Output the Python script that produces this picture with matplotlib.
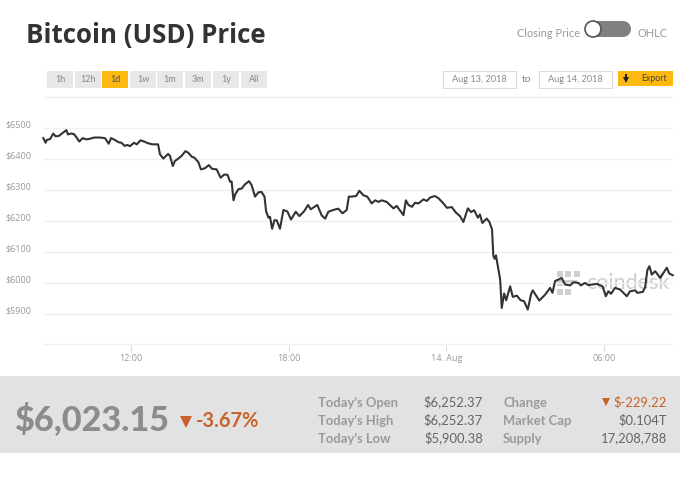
import matplotlib
matplotlib.use("Agg")
from matplotlib import pyplot as plt
from matplotlib.patches import Rectangle, FancyBboxPatch, Circle
from matplotlib.transforms import ScaledTranslation

# hours counted from 13 Aug 00:00
hours = [8.66, 8.75, 8.79, 8.92, 9.04, 9.13, 9.25, 9.40, 9.54, 9.60, 9.72, 9.83, 9.93, 10.03, 10.16,
         10.29, 10.44, 10.59, 10.82, 11.01, 11.15, 11.24, 11.39, 11.52, 11.64, 11.75, 11.86, 11.96,
         12.11, 12.22, 12.36, 12.50, 12.66, 12.82, 13.03, 13.10, 13.23, 13.41, 13.48, 13.59, 13.67,
         13.80, 13.93, 14.07, 14.18, 14.31, 14.41, 14.56, 14.66, 14.82, 14.96, 15.08, 15.26, 15.41,
         15.54, 15.67, 15.77, 15.83, 15.90, 15.97, 16.09, 16.21, 16.34, 16.49, 16.59, 16.72, 16.85,
         16.97, 17.08, 17.14, 17.23, 17.29, 17.37, 17.46, 17.55, 17.67, 17.80, 17.95, 18.09, 18.27,
         18.41, 18.59, 18.74, 18.84, 19.09, 19.26, 19.39, 19.51, 19.70, 19.89, 20.05, 20.21, 20.29,
         20.40, 20.57, 20.69, 20.85, 20.99, 21.16, 21.29, 21.42, 21.54, 21.73, 21.99, 22.11, 22.37,
         22.46, 22.56, 22.69, 22.81, 22.94, 23.13, 23.26, 23.38, 23.56, 23.70, 23.89, 24.02, 24.21,
         24.37, 24.52, 24.65, 24.82, 24.94, 25.06, 25.20, 25.28, 25.37, 25.54, 25.64, 25.74, 25.79,
         25.84, 25.89, 26.05, 26.11, 26.20, 26.28, 26.43, 26.53, 26.68, 26.83, 26.96, 27.10, 27.23,
         27.29, 27.54, 27.76, 27.95, 28.04, 28.14, 28.39, 28.52, 28.71, 28.84, 29.03, 29.12, 29.28,
         29.41, 29.73, 29.95, 30.07, 30.17, 30.27, 30.42, 30.61, 30.87, 30.99, 31.19, 31.27, 31.48,
         31.57, 31.65, 31.73, 31.82, 31.95, 32.14, 32.39, 32.49, 32.62]
price = [6467, 6452, 6461, 6464, 6482, 6473, 6474, 6484, 6493, 6479, 6482, 6480, 6469, 6456, 6467,
         6463, 6465, 6469, 6469, 6467, 6449, 6467, 6461, 6454, 6452, 6442, 6445, 6441,
         6452, 6447, 6460, 6456, 6450, 6447, 6447, 6415, 6401, 6416, 6410, 6377, 6393,
         6401, 6410, 6425, 6420, 6407, 6404, 6390, 6366, 6370, 6380, 6368, 6366, 6339,
         6349, 6349, 6326, 6327, 6266, 6286, 6302, 6304, 6318, 6328, 6315, 6278, 6292,
         6293, 6278, 6231, 6210, 6213, 6174, 6202, 6201, 6174, 6235, 6230, 6204, 6229,
         6215, 6231, 6251, 6237, 6251, 6217, 6207, 6229, 6235, 6239, 6224, 6235, 6278,
         6278, 6280, 6297, 6282, 6278, 6256, 6266, 6261, 6266, 6261, 6240, 6248, 6218,
         6266, 6251, 6245, 6258, 6256, 6269, 6264, 6275, 6280, 6273, 6256, 6242, 6244,
         6226, 6215, 6196, 6240, 6228, 6234, 6210, 6220, 6193, 6207, 6196, 6172, 6086,
         6077, 6088, 6010, 5918, 5965, 5943, 5988, 5954, 5958, 5943, 5940, 5913, 5964,
         5975, 5942, 5961, 5983, 5967, 6005, 6015, 5994, 5991, 6001, 5999, 5991, 5999,
         5992, 5996, 5988, 5956, 5972, 5964, 5983, 5978, 5956, 5972, 5975, 5967, 5970,
         5986, 6040, 6053, 6026, 6037, 6015, 6048, 6029, 6024]

ytick_vals = [5800, 5900, 6000, 6100, 6200, 6300, 6400, 6500, 6600]
ytick_labels = ["", "$5900", "$6000", "$6100", "$6200", "$6300", "$6400", "$6500", ""]
xtick_vals = [12, 18, 24, 30]
xtick_labels = ["12:00", "18:00", "14. Aug", "06:00"]
ranges = ["1h", "12h", "1d", "1w", "1m", "3m", "1y", "All"]
range_left = [47, 75, 102, 130, 157, 185, 213, 241]
stat_names = ["Today's Open", "Today's High", "Today's Low"]
stat_values = ["$6,252.37", "$6,252.37", "$5,900.38"]
other_names = ["Change", "Market Cap", "Supply"]
other_values = ["$-229.22", "$0.104T", "17,208,788"]

GREY = "#9a9a9a"
ORANGE = "#c8622a"
YELLOW = "#fdb90f"
plt.rcParams["font.family"] = ["Lato", "DejaVu Sans"]

fig = plt.figure(figsize=(6.8, 4.82), dpi=100)

# page furniture, in pixels
bg = fig.add_axes([0, 0, 1, 1], zorder=0)
bg.set_xlim(0, 680)
bg.set_ylim(482, 0)
bg.axis("off")

bg.text(26, 36, "Bitcoin (USD) Price", fontsize=18.6, fontweight="bold", color="#333333", va="center",
        family="Open Sans")

bg.text(580, 33.5, "Closing Price", fontsize=7.9, color="#999999", ha="right", va="center")
bg.text(638, 33.5, "OHLC", fontsize=7.9, color="#999999", va="center")
bg.add_patch(FancyBboxPatch((593, 21), 30, 16, boxstyle="round,pad=0,rounding_size=8", mutation_aspect=1,
                            fc="#808080", ec="#808080", lw=0))
bg.add_patch(Rectangle((593, 21), 30, 16, fc="#808080", lw=0))
bg.add_patch(Circle((631 - 8, 29), 8, fc="#808080", lw=0))
bg.add_patch(Circle((593, 29), 8, fc="white", ec="#555555", lw=1.2, zorder=3))

for left, label in zip(range_left, ranges):
    active = label == "1d"
    bg.add_patch(Rectangle((left, 71), 26, 17, fc=YELLOW if active else "#e8e8e8", lw=0))
    bg.text(left + 13, 79.5, label, fontsize=6.5, color="#555555" if active else "#888888",
            ha="center", va="center")

bg.add_patch(Rectangle((443, 71), 73, 17, fc="white", ec="#dddddd", lw=0.8))
bg.add_patch(Rectangle((539, 71), 73, 17, fc="white", ec="#dddddd", lw=0.8))
bg.text(479.5, 79.5, "Aug 13, 2018", fontsize=6.6, color="#888888", ha="center", va="center")
bg.text(575.5, 79.5, "Aug 14, 2018", fontsize=6.6, color="#888888", ha="center", va="center")
bg.text(527, 79, "to", fontsize=7.5, color="#888888", ha="center", va="center")
bg.add_patch(Rectangle((618, 71), 55, 15, fc=YELLOW, lw=0))
bg.add_patch(Rectangle((624.5, 74), 2, 4, fc="#222222", lw=0))
bg.plot([625.5], [79.5], marker="v", ms=5, color="#222222", mew=0)
bg.text(641, 78.5, "Export", fontsize=6.3, color="#444444", va="center")

# coindesk mark sits behind the line
bg.scatter([560, 568, 577, 560, 560, 568], [274, 274, 274, 283, 292, 292], marker="s", s=22, color="#cfcfcf", lw=0)
bg.add_patch(Rectangle((557, 280), 20, 3, fc="#cfcfcf", lw=0))
bg.text(586, 283, "coindesk", fontsize=15.5, color="#cccccc", va="center")

# stats band
bg.add_patch(Rectangle((0, 376), 680, 77, fc="#e2e2e2", lw=0))
bg.text(14, 420, "$6,023.15", fontsize=24.6, fontweight=900, color="#8c8c8c", va="center")
bg.plot([186], [422], marker="v", ms=8.5, color=ORANGE, mew=0)
bg.text(196, 421, "-3.67%", fontsize=14.4, fontweight="bold", color=ORANGE, va="center")

row_y = [403, 421, 439]
for y, name, val in zip(row_y, stat_names, stat_values):
    bg.text(318, y, name, fontsize=9.4, fontweight="bold", color=GREY, va="center")
    bg.text(483, y - 1, val, fontsize=9.4, color="#666666", ha="right", va="center")
for y, name, val in zip(row_y, other_names, other_values):
    bg.text(503, y, name, fontsize=9.4, fontweight="bold", color=GREY, va="center")
    bg.text(667, y - 1, val, fontsize=9.4, color=ORANGE if name == "Change" else "#666666",
            ha="right", va="center")
bg.plot([606], [401.5], marker="v", ms=5.5, color=ORANGE, mew=0)

# price chart
ax = fig.add_axes([43 / 680, 1 - 344.5 / 482, 629 / 680, 247.5 / 482], zorder=1)
ax.patch.set_alpha(0)
for s in ax.spines.values():
    s.set_visible(False)
ax.set_xlim(8.65, 32.59)
ax.set_ylim(5800, 6600)
ax.plot(hours, price, color="#333333", lw=1.5, solid_joinstyle="round", clip_on=False, zorder=3)

ax.set_yticks(ytick_vals)
ax.set_yticklabels(ytick_labels, fontsize=6.5, color="#999999", va="bottom", family="Open Sans")
ax.tick_params(axis="y", length=0, pad=8.5)
ax.yaxis.grid(True, color="#f0f0f0", lw=1, clip_on=False)
ax.set_axisbelow(True)
# labels sit just above their gridlines
shift = ScaledTranslation(0, -2 / 100, fig.dpi_scale_trans)
for lab in ax.get_yticklabels():
    lab.set_transform(lab.get_transform() + shift)

ax.set_xticks(xtick_vals)
ax.set_xticklabels(xtick_labels, fontsize=6.5, color="#999999", family="Open Sans")
ax.tick_params(axis="x", length=5, color="#dddddd", width=0.8, pad=1.5)

fig.savefig("out.png", dpi=100, facecolor="white")
